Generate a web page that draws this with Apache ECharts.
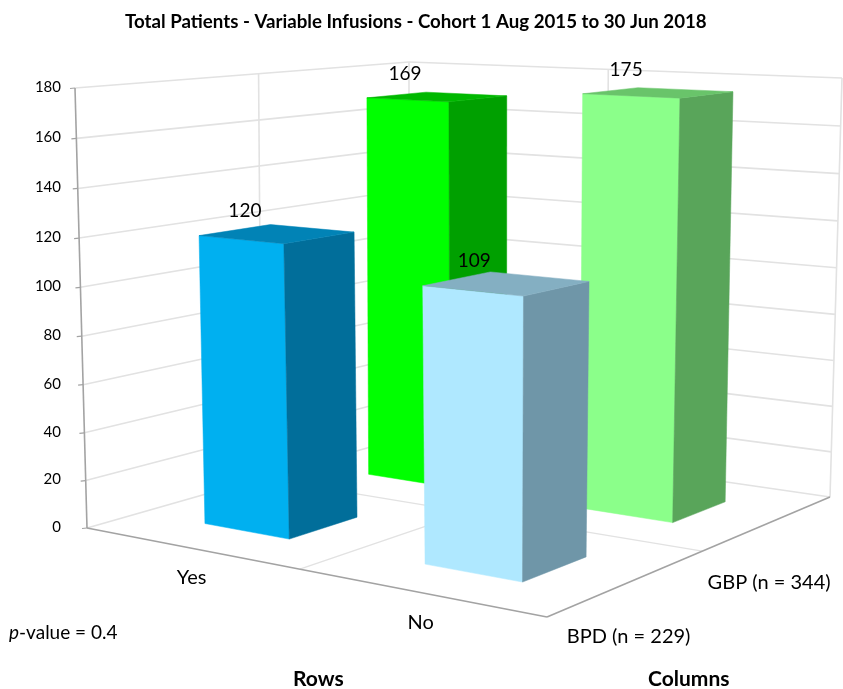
<!DOCTYPE html>
<html>
<head>
<meta charset="utf-8">
<title>Total Patients - Variable Infusions</title>
<style>
  html, body { margin: 0; padding: 0; background: #fff; }
  #chart { width: 843px; height: 689px; }
</style>
<script src="https://cdn.jsdelivr.net/npm/echarts@6/dist/echarts.min.js"></script>
</head>
<body>
<div id="chart"></div>
<script>
const rows = ['Yes', 'No']
const columns = ['BPD (n = 229)', 'GBP (n = 344)']
const bpdValues = [120, 109]
const gbpValues = [169, 175]
const yTicks = [0, 20, 40, 60, 80, 100, 120, 140, 160, 180]

// face colours per [row, column]: front, side, top
const barColors = {
  '0,0': ['#00b0f0', '#016e9a', '#0183b6'],
  '1,0': ['#afe8ff', '#6f96a8', '#84afc2'],
  '0,1': ['#00ff00', '#00a000', '#00b800'],
  '1,1': ['#8bff8a', '#59a55a', '#69c46a'],
}

const FONT = 'Lato, "Open Sans", sans-serif'
const AXIS_COLOR = '#a3a3a3'
const GRID_COLOR = '#e2e2e2'

// box corners on screen, u runs left -> front, v runs front -> back
const floorQuad = [[87, 528], [547, 617], [830, 497], [409, 436]]
const ceilQuad = [[75, 88], [551, 114], [842, 78], [409, 62]]
const barSizeU = 0.4
const barSizeV = 0.4
const barShiftU = 0.005
const heightPerspective = 1.035
const columnLabelDy = [54, 60]

function homography(q) {
  const [[x0, y0], [x1, y1], [x2, y2], [x3, y3]] = q
  const dx1 = x1 - x2, dx2 = x3 - x2, sx = x0 - x1 + x2 - x3
  const dy1 = y1 - y2, dy2 = y3 - y2, sy = y0 - y1 + y2 - y3
  const det = dx1 * dy2 - dx2 * dy1
  const g = (sx * dy2 - dx2 * sy) / det
  const h = (dx1 * sy - sx * dy1) / det
  const a = x1 - x0 + g * x1, b = x3 - x0 + h * x3
  const d = y1 - y0 + g * y1, e = y3 - y0 + h * y3
  return (u, v) => {
    const w = g * u + h * v + 1
    return [(a * u + b * v + x0) / w, (d * u + e * v + y0) / w]
  }
}
const floorAt = homography(floorQuad)
const ceilAt = homography(ceilQuad)

function project(u, v, s) {
  const f = floorAt(u, v)
  const c = ceilAt(u, v)
  return [f[0] + (c[0] - f[0]) * s, f[1] + (c[1] - f[1]) * s]
}

function valueShare(api, value) {
  const y0 = api.coord([0, 0])[1]
  const yMax = api.coord([0, yTicks[yTicks.length - 1]])[1]
  const s = (y0 - api.coord([0, value])[1]) / (y0 - yMax)
  return s / (s + (1 - s) * heightPerspective)
}

function line(a, b, color, width) {
  return {
    type: 'line',
    shape: { x1: a[0], y1: a[1], x2: b[0], y2: b[1] },
    style: { stroke: color, lineWidth: width },
    silent: true,
  }
}

function face(points, color) {
  return { type: 'polygon', shape: { points }, style: { fill: color, stroke: color, lineWidth: 0.5 } }
}

function text(str, x, y, size, align) {
  return {
    type: 'text',
    style: { text: str, x, y, fill: '#000', font: `${size}px ${FONT}`, align: align || 'center', verticalAlign: 'middle' },
  }
}

function renderFrame(params, api) {
  if (params.dataIndex !== 0) return { type: 'group', children: [] }
  const items = []
  const labelX = api.coord([0, 0])[0] - 9
  yTicks.forEach((t) => {
    const s = valueShare(api, t)
    const left = project(0, 0, s)
    const back = project(0, 1, s)
    const right = project(1, 1, s)
    items.push(line(left, back, GRID_COLOR, 1.6))
    items.push(line(back, right, GRID_COLOR, 1.6))
    items.push(line([left[0] - 5, left[1] + 0.5], left, AXIS_COLOR, 1.2))
    items.push(text(String(t), labelX, left[1] - 1, 15, 'right'))
  })
  // wall uprights
  items.push(line(project(0, 0.5, 0), project(0, 0.5, 1), GRID_COLOR, 1.6))
  items.push(line(project(0, 1, 0), project(0, 1, 1), GRID_COLOR, 1.6))
  items.push(line(project(0.5, 1, 0), project(0.5, 1, 1), GRID_COLOR, 1.6))
  items.push(line(project(1, 1, 0), project(1, 1, 1), GRID_COLOR, 1.6))
  // floor dividers
  items.push(line(project(0.5, 0, 0), project(0.5, 1, 0), GRID_COLOR, 1.4))
  items.push(line(project(0, 0.5, 0), project(1, 0.5, 0), GRID_COLOR, 1.4))
  // axis edges
  items.push(line(project(0, 0, 0), project(0, 0, 1), AXIS_COLOR, 1.6))
  items.push(line(project(0, 0, 0), project(1, 0, 0), AXIS_COLOR, 1.6))
  items.push(line(project(1, 0, 0), project(1, 1, 0), AXIS_COLOR, 1.6))
  // category labels
  rows.forEach((name, i) => {
    const p = project((i + 0.5) / rows.length, 0, 0)
    items.push(text(name, p[0] + 2, p[1] + 30, 20))
  })
  columns.forEach((name, i) => {
    const p = project(1, (i + 0.5) / columns.length, 0)
    items.push(text(name, p[0], p[1] + columnLabelDy[i], 20))
  })
  return { type: 'group', children: items }
}

function renderBar(params, api) {
  const r = api.value(0)
  const c = api.value(1)
  const value = api.value(2)
  const s = valueShare(api, value)
  const colors = barColors[r + ',' + c]
  const cu = (r + 0.5) / rows.length + barShiftU
  const cv = (c + 0.5) / columns.length
  const du = barSizeU / rows.length / 2
  const dv = barSizeV / columns.length / 2
  const corner = (a, b, h) => project(cu + a * du, cv + b * dv, h)
  const top = project(cu, cv, s)
  return {
    type: 'group',
    children: [
      face([corner(-1, -1, 0), corner(1, -1, 0), corner(1, -1, s), corner(-1, -1, s)], colors[0]),
      face([corner(1, -1, 0), corner(1, 1, 0), corner(1, 1, s), corner(1, -1, s)], colors[1]),
      face([corner(-1, -1, s), corner(1, -1, s), corner(1, 1, s), corner(-1, 1, s)], colors[2]),
      text(String(value), top[0] - 32, top[1] - 23, 19),
    ],
  }
}

// back bars first so the front ones cover them
const barData = []
gbpValues.forEach((v, r) => barData.push([r, 1, v]))
bpdValues.forEach((v, r) => barData.push([r, 0, v]))

const chart = echarts.init(document.getElementById('chart'), null, { renderer: 'canvas' })

chart.setOption({
  backgroundColor: '#fff',
  animation: false,
  title: {
    text: 'Total Patients - Variable Infusions - Cohort 1 Aug 2015 to 30 Jun 2018',
    left: 120,
    top: 7,
    textStyle: { fontFamily: FONT, fontSize: 18.7, fontWeight: 'bold', color: '#000' },
  },
  grid: { left: 70, right: 40, top: 88, bottom: 163 },
  xAxis: { type: 'value', min: 0, max: 1, show: false },
  yAxis: {
    type: 'value',
    min: 0,
    max: 180,
    interval: 20,
    axisLine: { show: false },
    axisTick: { show: false },
    splitLine: { show: false },
    axisLabel: { show: false },
  },
  graphic: [
    {
      type: 'text',
      left: 9,
      top: 623,
      style: {
        text: '{i|p}-value = 0.4',
        font: `19px ${FONT}`,
        fill: '#000',
        rich: { i: { fontStyle: 'italic', fontFamily: FONT, fontSize: 19 } },
      },
    },
    { type: 'text', left: 293, top: 669, style: { text: 'Rows', font: `bold 21px ${FONT}`, fill: '#000' } },
    { type: 'text', left: 648, top: 669, style: { text: 'Columns', font: `bold 21px ${FONT}`, fill: '#000' } },
  ],
  series: [
    {
      type: 'custom',
      clip: false,
      silent: true,
      z: 1,
      renderItem: renderFrame,
      encode: { x: 0, y: 1 },
      data: [[0, 0]],
    },
    {
      type: 'custom',
      clip: false,
      silent: true,
      z: 2,
      renderItem: renderBar,
      encode: { x: 0, y: 2 },
      data: barData,
    },
  ],
})
</script>
</body>
</html>
